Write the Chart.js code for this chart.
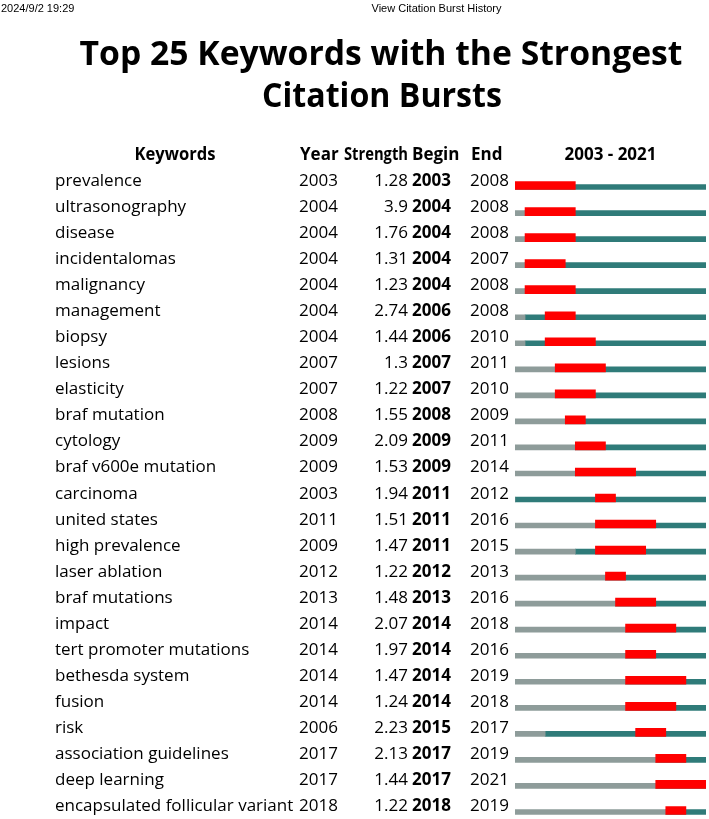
<!DOCTYPE html>
<html>
<head>
<meta charset="utf-8">
<title>View Citation Burst History</title>
<script src="https://cdn.jsdelivr.net/npm/chart.js@4/dist/chart.umd.min.js"></script>
<style>
  html, body { margin: 0; padding: 0; background: #fff; overflow: hidden; }
  #burst { display: block; }
</style>
</head>
<body>
<canvas id="burst" width="709" height="819"></canvas>
<script>
const keywords = [
  'prevalence', 'ultrasonography', 'disease', 'incidentalomas', 'malignancy',
  'management', 'biopsy', 'lesions', 'elasticity', 'braf mutation',
  'cytology', 'braf v600e mutation', 'carcinoma', 'united states', 'high prevalence',
  'laser ablation', 'braf mutations', 'impact', 'tert promoter mutations', 'bethesda system',
  'fusion', 'risk', 'association guidelines', 'deep learning', 'encapsulated follicular variant'
];
const years = [2003, 2004, 2004, 2004, 2004, 2004, 2004, 2007, 2007, 2008,
  2009, 2009, 2003, 2011, 2009, 2012, 2013, 2014, 2014, 2014,
  2014, 2006, 2017, 2017, 2018];
const strengths = [1.28, 3.9, 1.76, 1.31, 1.23, 2.74, 1.44, 1.3, 1.22, 1.55,
  2.09, 1.53, 1.94, 1.51, 1.47, 1.22, 1.48, 2.07, 1.97, 1.47,
  1.24, 2.23, 2.13, 1.44, 1.22];
const begins = [2003, 2004, 2004, 2004, 2004, 2006, 2006, 2007, 2007, 2008,
  2009, 2009, 2011, 2011, 2011, 2012, 2013, 2014, 2014, 2014,
  2014, 2015, 2017, 2017, 2018];
const ends = [2008, 2008, 2008, 2007, 2008, 2008, 2010, 2011, 2010, 2009,
  2011, 2014, 2012, 2016, 2015, 2013, 2016, 2018, 2016, 2019,
  2018, 2017, 2019, 2021, 2019];
const firstYear = 2003;
const lastYear = 2021;

const RED = '#ff0000';
const TEAL = '#2f7b79';
const GREY = '#8e9c9a';

// layout of the page
const W = 709, H = 819;
const ROW = 26.04;
const TOP = 172.5;
const Y_MIN = -0.5, Y_MAX = 24.3;
const SHIFT = 1.5 / ROW; // thin bars sit on the bottom edge of the red ones

const FONT = '"Open Sans", "Noto Sans", sans-serif';
const rows = keywords.map((k, i) => i);

const tablePlugin = {
  id: 'burstTable',
  afterDraw(chart) {
    const ctx = chart.ctx;
    const ys = chart.scales.y;
    ctx.save();
    ctx.fillStyle = '#000';
    ctx.textBaseline = 'alphabetic';

    // print header
    ctx.font = '11px "Liberation Sans", Arial, sans-serif';
    ctx.textAlign = 'left';
    ctx.fillText('2024/9/2 19:29', 1, 12);
    ctx.textAlign = 'center';
    ctx.fillText('View Citation Burst History', 436.5, 12);

    // title
    ctx.font = 'bold 34px ' + FONT;
    ctx.fillText('Top 25 Keywords with the Strongest', 381, 65, 603);
    ctx.fillText('Citation Bursts', 382, 107.3, 240);

    // column headers
    const hy = ys.getPixelForValue(-1) + 0.5;
    ctx.font = 'bold 17px ' + FONT;
    ctx.textAlign = 'center';
    ctx.fillText('Keywords', 175, hy, 81);
    ctx.fillText(firstYear + ' - ' + lastYear, (chart.chartArea.left + chart.chartArea.right) / 2, hy, 96);
    ctx.textAlign = 'left';
    ctx.fillText('Year', 300, hy, 41);
    ctx.fillText('Begin', 412, hy, 54);
    ctx.fillText('End', 471, hy, 35);
    ctx.textAlign = 'right';
    ctx.fillText('Strength', 408, hy, 64);

    // table rows
    rows.forEach(i => {
      const by = ys.getPixelForValue(i) + 0.5;
      ctx.font = '17px ' + FONT;
      ctx.textAlign = 'left';
      ctx.fillText(keywords[i], 55, by);
      ctx.fillText(String(years[i]), 299, by);
      ctx.fillText(String(ends[i]), 470, by);
      ctx.textAlign = 'right';
      ctx.fillText(String(strengths[i]), 408, by);
      ctx.font = 'bold 17px ' + FONT;
      ctx.textAlign = 'left';
      ctx.fillText(String(begins[i]), 412, by);
    });
    ctx.restore();
  }
};

new Chart(document.getElementById('burst'), {
  type: 'bar',
  data: {
    datasets: [{
      label: 'Burst',
      data: rows.map(i => ({ x: [begins[i], ends[i] + 1], y: i })),
      backgroundColor: RED,
      barThickness: 8,
      grouped: false,
      yAxisID: 'y'
    }, {
      label: 'Before',
      data: rows.map(i => ({ x: [firstYear, years[i]], y: i })),
      backgroundColor: GREY,
      barThickness: 5,
      grouped: false,
      yAxisID: 'y2'
    }, {
      label: 'After',
      data: rows.map(i => ({ x: [years[i], lastYear + 1], y: i })),
      backgroundColor: TEAL,
      barThickness: 5,
      grouped: false,
      yAxisID: 'y2'
    }]
  },
  options: {
    indexAxis: 'y',
    responsive: false,
    animation: false,
    layout: {
      padding: {
        left: 515,
        right: W - 706,
        top: TOP,
        bottom: H - TOP - (Y_MAX - Y_MIN) * ROW
      }
    },
    scales: {
      x: { type: 'linear', min: firstYear, max: lastYear + 1, display: false, offset: false, grace: 0 },
      y: { type: 'linear', axis: 'y', min: Y_MIN, max: Y_MAX, reverse: true, display: false, offset: false, grace: 0, bounds: 'data' },
      y2: { type: 'linear', axis: 'y', min: Y_MIN - SHIFT, max: Y_MAX - SHIFT, reverse: true, display: false, offset: false, grace: 0, bounds: 'data' }
    },
    plugins: {
      legend: { display: false },
      tooltip: { enabled: false }
    }
  },
  plugins: [tablePlugin]
});
</script>
</body>
</html>
